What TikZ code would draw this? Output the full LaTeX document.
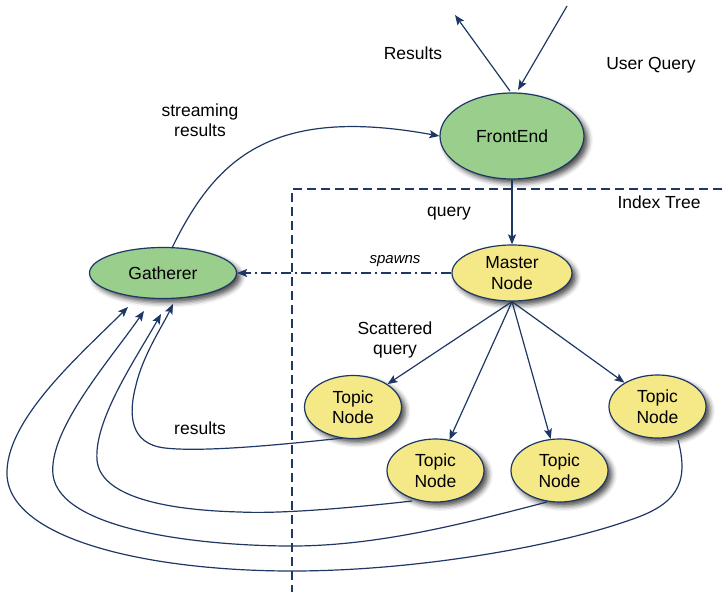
\documentclass[tikz,border=0pt]{standalone}
\usepackage{fontspec}
\setmainfont{Liberation Sans}
\usetikzlibrary{arrows.meta,shapes.geometric,shadows.blur}
\definecolor{navy}{RGB}{30,55,100}
\definecolor{gfill}{RGB}{153,206,140}
\definecolor{yfill}{RGB}{245,232,134}
\tikzset{
  base/.style={ellipse,draw=navy,line width=1.2pt,inner sep=0pt,align=center,
    font=\fontsize{17.5}{20.5}\selectfont,
    blur shadow={shadow xshift=4pt,shadow yshift=-4pt,shadow blur radius=5pt,shadow opacity=70}},
  gnode/.style={base,fill=gfill},
  ynode/.style={base,fill=yfill},
  lbl/.style={font=\fontsize{17.5}{20.5}\selectfont,align=center,inner sep=0pt},
  conn/.style={draw=navy,line width=1.2pt,-{Stealth[length=10pt,width=8pt,inset=2pt]}},
  sep/.style={draw=navy,line width=1.8pt,dash pattern=on 9pt off 5pt}
}
\begin{document}
\begin{tikzpicture}[x=1pt,y=-1pt]
\path[use as bounding box] (0,0) rectangle (722,592);
% separators
\coordinate (h1) at (292,189);
\coordinate (h2) at (722,189);
\coordinate (v2) at (292,592);
\draw[sep] (h2) -- (h1) -- (v2);
% nodes
\node[gnode,minimum width=144pt,minimum height=86pt] (fe) at (512,136) {FrontEnd};
\node[ynode,minimum width=120pt,minimum height=56pt] (mn) at (512,273) {Master\\Node};
\node[gnode,minimum width=147pt,minimum height=51pt] (ga) at (163,273) {Gatherer};
\node[ynode,minimum width=97pt,minimum height=63pt] (t1) at (353,407) {Topic\\Node};
\node[ynode,minimum width=97pt,minimum height=63pt] (t2) at (435.5,470.5) {Topic\\Node};
\node[ynode,minimum width=97pt,minimum height=63pt] (t3) at (559.5,470.5) {Topic\\Node};
\node[ynode,minimum width=97pt,minimum height=63pt] (t4) at (657.5,406.5) {Topic\\Node};
% labels
\node[lbl] (lres) at (413,53) {Results};
\node[lbl] (luq) at (651,65) {User Query};
\node[lbl] (lit) at (659,202) {Index Tree};
\node[lbl] (lq) at (449,214) {query};
\node[lbl] (lsr) at (200,120) {streaming\\results};
\node[lbl,font=\fontsize{15}{18}\selectfont\itshape] (lsp) at (395,261) {spawns};
\node[lbl] (lsc) at (395,340) {Scattered\\query};
\node[lbl] (lr) at (200,428) {results};
% top arrows
\coordinate (uq) at (567,6);
\coordinate (uqe) at (518,90);
\coordinate (rs) at (510,91);
\coordinate (re) at (455,15);
\draw[conn] (uq) -- (uqe);
\draw[conn] (rs) -- (re);
% front end to master
\draw[conn] (fe.south) -- (mn.north);
% spawns
\draw[conn,dash pattern=on 10pt off 4pt on 2pt off 4pt] (mn.west) -- (ga.east);
% streaming results
\draw[conn] (ga.north) ++(9,1) coordinate (gs) (gs) .. controls (215,160) and (270,105) .. (fe.west);
% scattered query
\draw[conn] (mn.south) -- (t1);
\draw[conn] (mn.south) -- (t2);
\draw[conn] (mn.south) -- (t3);
\draw[conn] (mn.south) -- (t4);
% returns
\coordinate (a1) at (173,304);
\coordinate (a2) at (161,314);
\coordinate (a3) at (144,311);
\coordinate (a4) at (128,307);
\coordinate (s1) at (343,438);
\coordinate (s2) at (412,501);
\coordinate (s3) at (547,502);
\coordinate (s4) at (678,440);
\draw[conn] (s1) .. controls (270,446) and (200,452) .. (165,448)
  .. controls (130,444) and (128,415) .. (136,385)
  .. controls (143,355) and (163,325) .. (a1);
\draw[conn] (s2) .. controls (350,508) and (280,514) .. (240,512)
  .. controls (160,510) and (100,495) .. (97,460)
  .. controls (94,420) and (135,360) .. (a2);
\draw[conn] (s3) .. controls (470,522) and (380,546) .. (292,546)
  .. controls (200,546) and (60,530) .. (53,475)
  .. controls (48,430) and (110,360) .. (a3);
\draw[conn] (s4) .. controls (690,485) and (675,505) .. (630,520)
  .. controls (560,545) and (420,571) .. (292,571)
  .. controls (150,571) and (10,540) .. (7,475)
  .. controls (5,420) and (80,355) .. (a4);
\end{tikzpicture}
\end{document}
